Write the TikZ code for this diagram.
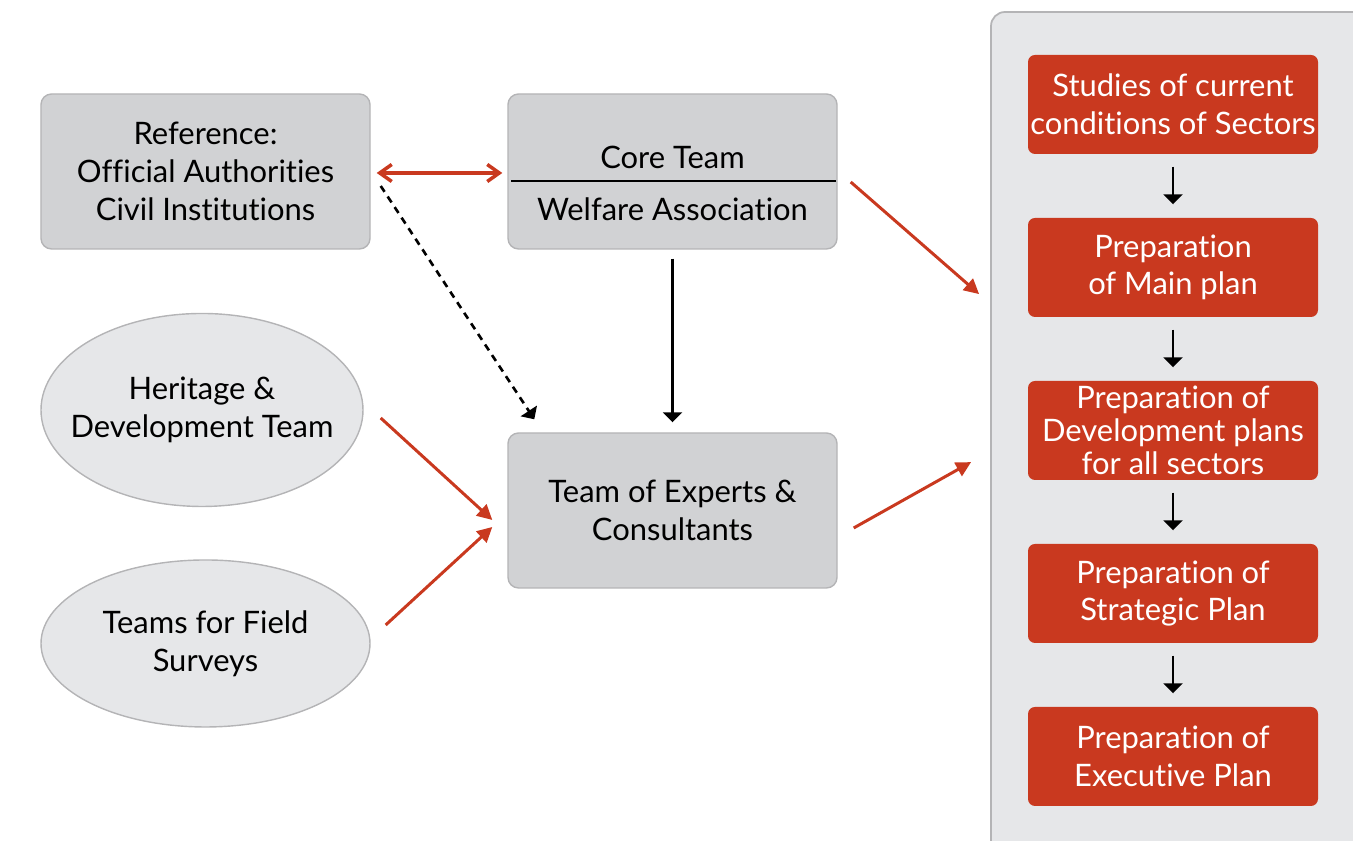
\documentclass[tikz,border=0pt]{standalone}
\usepackage{fontspec}
\setmainfont{Lato}[Ligatures=NoCommon]
\usetikzlibrary{arrows.meta,shapes.geometric}

\definecolor{brick}{RGB}{201,57,31}
\definecolor{boxgray}{RGB}{209,210,212}
\definecolor{lightgray}{RGB}{230,231,233}
\definecolor{edgegray}{RGB}{180,180,182}

\begin{document}
\begin{tikzpicture}[
    font=\fontsize{8.8}{10.7}\selectfont,
    greybox/.style={draw=edgegray, fill=boxgray, rounded corners=3pt, line width=0.4pt,
      minimum width=3.29cm, minimum height=1.55cm, align=center, inner sep=0pt},
    oval/.style={ellipse, draw=edgegray, fill=lightgray, line width=0.4pt, align=center,
      inner xsep=-0.4cm, inner ysep=-0.2cm},
    stage/.style={fill=brick, text=white, rounded corners=2pt, minimum width=2.9cm,
      minimum height=0.99cm, align=center, inner sep=0pt},
    redarrow/.style={draw=brick, line width=0.85pt, -{Triangle[length=0.15cm, width=0.15cm]}},
    blackarrow/.style={draw=black, line width=0.6pt, -{Triangle[length=0.1cm, width=0.19cm]}},
  ]
  \useasboundingbox (0,0) rectangle (13.53,8.41);
  \clip (0,0) rectangle (13.53,8.41);

  % right hand panel with the stages
  \node[draw=edgegray, fill=lightgray, rounded corners=4pt, line width=0.5pt,
    minimum width=4.09cm, minimum height=8.88cm, inner sep=0pt] (panel) at (11.955,3.85) {};

  \node[stage] (studies) at (11.73,7.365) {Studies of current\\conditions of Sectors};
  \node[stage] (mainplan) at (11.73,5.735) {Preparation\\of Main plan};
  \node[stage, font=\fontsize{8.8}{9.4}\selectfont] (devplans) at (11.73,4.105) {Preparation of\\Development plans\\for all sectors};
  \node[stage] (strategic) at (11.73,2.475) {Preparation of\\Strategic Plan};
  \node[stage] (executive) at (11.73,0.845) {Preparation of\\Executive Plan};

  \foreach \a/\b in {studies/mainplan, mainplan/devplans, devplans/strategic, strategic/executive}
    \draw[blackarrow, shorten <=0.12cm, shorten >=0.13cm] (\a) -- (\b);

  % boxes on the left
  \node[greybox] (ref) at (2.055,6.695) {Reference:\\Official Authorities\\Civil Institutions};
  \node[greybox] (core) at (6.725,6.695) {};
  \node (coreteam) at (6.725,6.84) {Core Team};
  \node (welfare) at (6.725,6.32) {Welfare Association};
  \draw[line width=0.6pt] ([xshift=0.04cm, yshift=-0.095cm]core.west) -- ([xshift=-0.02cm, yshift=-0.095cm]core.east);
  \node[greybox] (experts) at (6.725,3.305) {Team of Experts \&\\Consultants};

  \node[oval, minimum width=3.22cm, minimum height=1.93cm] (heritage) at (2.02,4.31) {Heritage \&\\Development Team};
  \node[oval, minimum width=3.29cm, minimum height=1.67cm] (surveys) at (2.055,1.975) {Teams for Field\\Surveys};

  % connections
  \draw[draw=brick, line width=1pt, {Straight Barb[length=0.12cm, width=0.17cm]}-{Straight Barb[length=0.12cm, width=0.17cm]},
    shorten <=0.06cm, shorten >=0.05cm] ([yshift=-0.015cm]ref.east) -- ([yshift=-0.015cm]core.west);
  \draw[blackarrow, dashed, dash pattern=on 2pt off 1.6pt, line width=0.75pt]
    ([shift={(0.1,-0.145)}]ref.east) -- ([shift={(0.27,0.13)}]experts.north west);
  \draw[blackarrow, shorten <=0.09cm, shorten >=0.1cm] (core.south) -- (experts.north);
  \draw[redarrow] ([shift={(0.13,-0.105)}]core.east) -- ([shift={(-0.11,-2.83)}]panel.north west);
  \draw[redarrow] ([shift={(0.16,-0.175)}]experts.east) -- ([shift={(-0.19,-4.51)}]panel.north west);
  \draw[redarrow] ([shift={(0.17,-0.08)}]heritage.east) -- ([shift={(-0.15,-0.095)}]experts.west);
  \draw[redarrow] ([shift={(0.15,0.185)}]surveys.east) -- ([shift={(-0.15,-0.165)}]experts.west);
\end{tikzpicture}
\end{document}
